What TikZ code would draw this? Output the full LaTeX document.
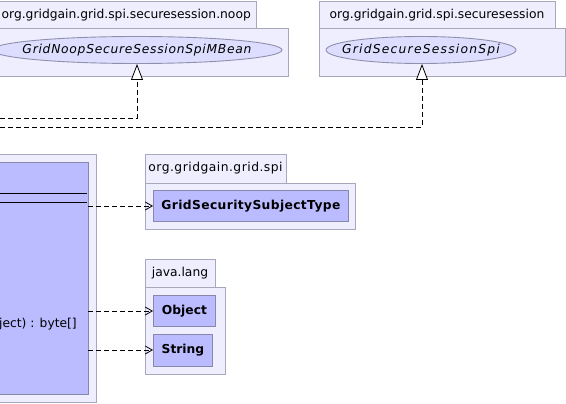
\documentclass[tikz,border=0pt]{standalone}
\usepackage{fontspec}
\setmainfont{DejaVu Sans}
\usetikzlibrary{arrows.meta}
\definecolor{pkgfill}{HTML}{EEEEFF}
\definecolor{pkgdraw}{HTML}{A8A8BC}
\definecolor{clsfill}{HTML}{BBBBFF}
\definecolor{clsdraw}{HTML}{8888AA}
\definecolor{ellfill}{HTML}{DDDDFF}
\definecolor{elldraw}{HTML}{9090AC}
\tikzset{
  pkg/.style={fill=pkgfill,draw=pkgdraw,line width=0.9pt},
  cls/.style={fill=clsfill,draw=clsdraw,line width=0.9pt},
  ell/.style={fill=ellfill,draw=elldraw,line width=0.9pt},
  txt/.style={font=\fontsize{12.3}{14}\selectfont,inner sep=0pt},
  btxt/.style={font=\fontsize{12.3}{14}\selectfont\bfseries,inner sep=0pt},
  itxt/.style={font=\fontsize{12.3}{14}\selectfont\itshape\addfontfeature{LetterSpace=6},inner sep=0pt},
  dep/.style={dashed,dash pattern=on 5pt off 3pt,line width=0.8pt,-{Straight Barb[length=7pt,width=8pt]}},
  impl/.style={dashed,dash pattern=on 5pt off 3pt,line width=0.8pt,-{Triangle[open,length=16pt,width=12pt,fill=white]}}
}
\begin{document}
\begin{tikzpicture}[x=1pt,y=-1pt]
\useasboundingbox (0,0) rectangle (566,404);
\clip (0,0) rectangle (566,404);
% top-left package
\draw[pkg] (-10,1) rectangle (256,28);
\node[txt,anchor=east] (pkgA) at (251,15) {org.gridgain.grid.spi.securesession.noop};
\draw[pkg] (-10,28) rectangle (288,76);
\draw[ell] (137,50) ellipse [x radius=145,y radius=13.5];
\node[itxt] (noop) at (137,50) {GridNoopSecureSessionSpiMBean};
\coordinate (noopb) at (137,64);
% top-right package
\draw[pkg] (319,1) rectangle (555,28);
\node[txt] (pkgB) at (437,15) {org.gridgain.grid.spi.securesession};
\draw[pkg] (319,28) rectangle (565,76);
\draw[ell] (421,50) ellipse [x radius=95,y radius=13.5];
\node[itxt,font=\fontsize{12.3}{14}\selectfont\itshape\addfontfeature{LetterSpace=10}] (sess) at (421,50) {GridSecureSessionSpi};
\coordinate (sessb) at (422,64);
% left main class package
\draw[pkg] (-10,154) rectangle (96,402);
\draw[cls] (-10,162) rectangle (88,394);
\draw[line width=0.9pt] (-10,193) -- (87,193);
\draw[line width=0.9pt] (-10,202) -- (87,202);
\node[txt,anchor=base east] (meth) at (77,327) {bject) : byte[]};
% org.gridgain.grid.spi
\draw[pkg] (145,154) rectangle (286,183);
\node[txt,font=\fontsize{12.3}{14}\selectfont\addfontfeature{LetterSpace=4}] (pkgC) at (215.5,168) {org.gridgain.grid.spi};
\draw[pkg] (145,183) rectangle (355,229);
\node[cls,minimum width=195pt,minimum height=31pt,inner sep=0pt,anchor=north west] (gsst) at (153,190) {};
\node[btxt,font=\fontsize{12.3}{14}\selectfont\bfseries\addfontfeature{LetterSpace=3}] at (gsst.center) {GridSecuritySubjectType};
% java.lang
\draw[pkg] (145,259) rectangle (215,287);
\node[txt] (pkgD) at (180,273) {java.lang};
\draw[pkg] (145,287) rectangle (225,374);
\node[cls,minimum width=62pt,minimum height=31pt,inner sep=0pt,anchor=north west] (obj) at (153,295) {};
\node[btxt] at (obj.center) {Object};
\node[cls,minimum width=59pt,minimum height=32pt,inner sep=0pt,anchor=north west] (str) at (153,334) {};
\node[btxt] at (str.center) {String};
% connectors
\coordinate (l1) at (0,118);
\coordinate (l2) at (0,127);
\draw[impl] (l1) -| (noopb);
\draw[impl] (l2) -| (sessb);
\coordinate (s1) at (88,206);
\coordinate (s2) at (88,311);
\coordinate (s3) at (88,350);
\draw[dep] (s1) -- (s1 -| gsst.west);
\draw[dep] (s2) -- (s2 -| obj.west);
\draw[dep] (s3) -- (s3 -| str.west);
\end{tikzpicture}
\end{document}
